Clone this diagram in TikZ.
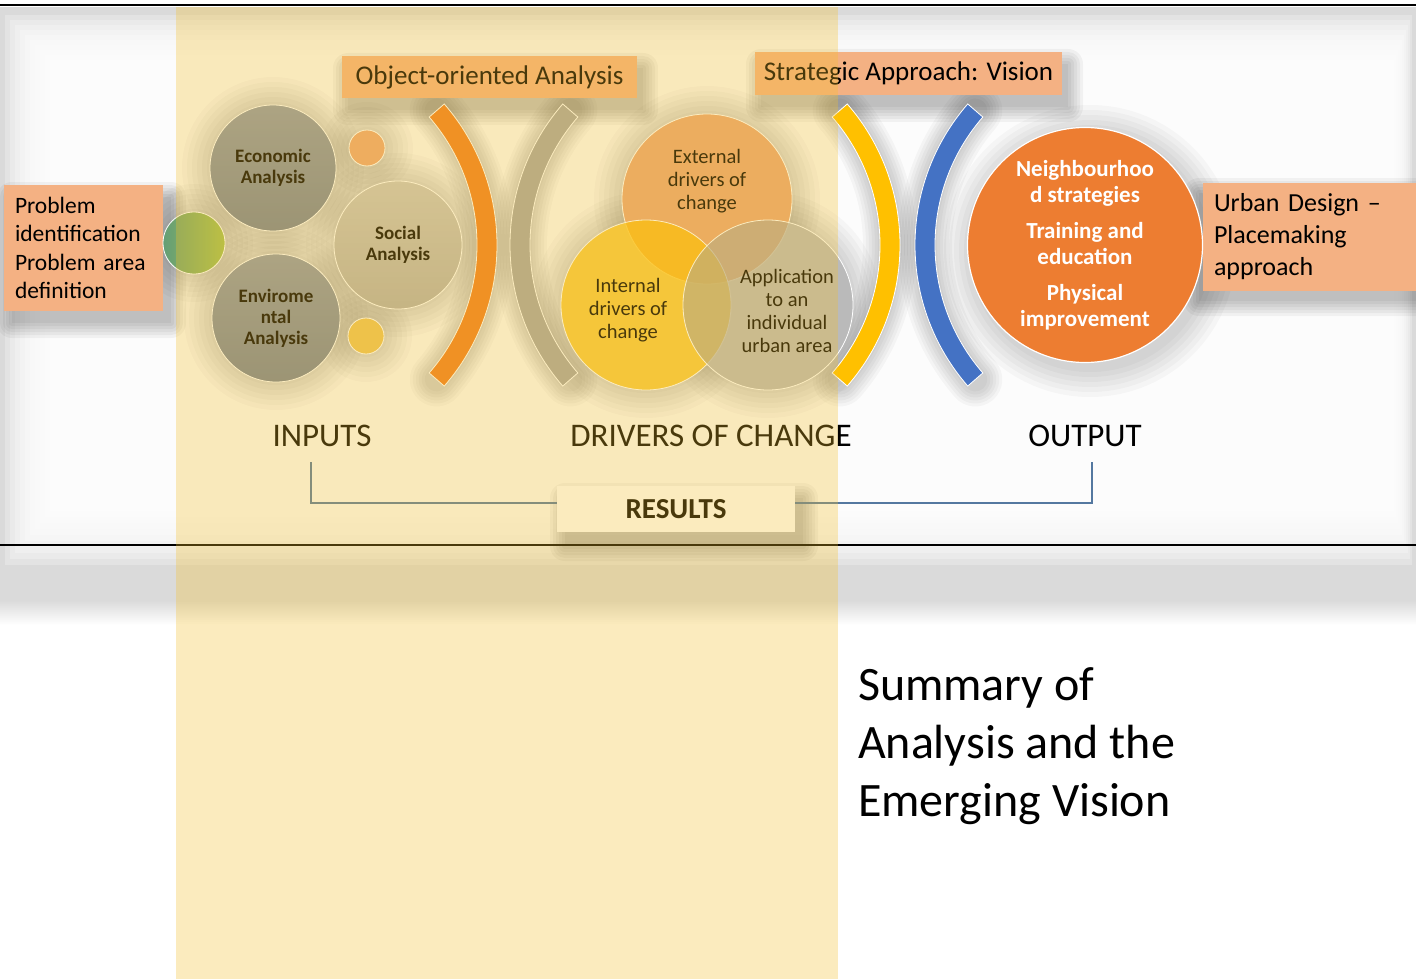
\documentclass[tikz,border=0pt]{standalone}
\usepackage{fontspec}
\setmainfont{Carlito}
\newcommand\myfs[2]{\fontsize{#1}{#2}\selectfont}
\definecolor{salmon}{RGB}{244,177,131}
\definecolor{orangeA}{RGB}{237,125,49}
\definecolor{arcorange}{RGB}{238,125,35}
\definecolor{goldA}{RGB}{255,192,0}
\definecolor{blueA}{RGB}{68,114,196}
\definecolor{grayA}{RGB}{165,165,165}
\definecolor{ovl}{RGB}{245,192,40}
\definecolor{bracketc}{RGB}{84,120,160}
\definecolor{bggray}{RGB}{218,218,218}
\definecolor{venbase}{RGB}{228,228,228}
\definecolor{econTop}{RGB}{142,152,170}
\definecolor{econBot}{RGB}{118,130,150}
\definecolor{socTop}{RGB}{200,198,194}
\definecolor{socBot}{RGB}{178,176,172}
\definecolor{greenL}{RGB}{100,158,118}
\definecolor{greenR}{RGB}{165,192,80}
\definecolor{smallOr}{RGB}{235,165,120}
\definecolor{smallYe}{RGB}{235,195,90}
\newcommand\mysh[4]{\foreach \k in {0,3,...,15}{\fill[black,opacity=0.045,rounded corners=\k pt] ({#1-\k},{#2-\k}) rectangle ({#3+\k},{#4+\k});}}
\newcommand\myhalo[3]{\foreach \k in {3,8,...,28}{\fill[black,opacity=0.028] (#1,#2) circle ({#3+\k});}}
\newcommand\myarchalo[4]{\foreach \w in {24,30,...,54}{\draw[black,opacity=0.03,line width=\w pt,line cap=round] ([shift={(#3:205)}]#1,#2) arc[start angle=#3,end angle=#4,radius=205];}}
\newcommand\myarc[5]{\filldraw[fill=#5,draw=white,line width=0.8pt] ([shift={(#3:215)}]#1,#2) arc[start angle=#3,end angle=#4,radius=215] -- ([shift={(#4:195)}]#1,#2) arc[start angle=#4,end angle=#3,radius=195] -- cycle;}
\begin{document}
\begin{tikzpicture}[x=1pt,y=-1pt,
  every node/.style={inner sep=0pt,outer sep=0pt},
  salbox/.style={fill=salmon},
  ancirc/.style={circle,draw=white,line width=0.8pt,align=center,font=\bfseries\myfs{19}{21}},
  smallc/.style={circle,draw=white,line width=0.8pt,minimum size=36},
  venn/.style={circle,minimum size=170,draw=white,line width=0.8pt},
  venntxt/.style={align=center,font=\myfs{20.5}{23}},
  heading/.style={font=\myfs{33}{38}},
  bracketline/.style={draw=bracketc,line width=1.2pt}]
\useasboundingbox (0,0) rectangle (1416,979);
\fill[white] (0,0) rectangle (1416,979);
% blurred frame
\fill[bggray] (0,7) rectangle (1416,600);
\foreach \i in {0,...,9}{\fill[white,opacity=0.25] ({5+5*\i},{15+5*\i}) rectangle ({1412-2*\i},{565-6*\i});}
\shade[top color=bggray,bottom color=white] (0,600) rectangle (1416,625);
\draw[line width=2pt] (0,5) -- (1416,5);
\draw[line width=2pt] (0,545) -- (1416,545);
% shadows and halos
\mysh{12}{197}{171}{323}
\mysh{1199}{193}{1420}{301}
\mysh{761}{64}{1068}{107}
\mysh{348}{68}{643}{110}
\mysh{565}{498}{803}{546}
\myhalo{194}{243}{31}
\myhalo{273}{168}{63}
\myhalo{398}{245}{64}
\myhalo{276}{318}{64}
\myhalo{367}{148}{18}
\myhalo{366}{336}{18}
\myhalo{707}{199}{85}
\myhalo{646}{305}{85}
\myhalo{768}{305}{85}
\myhalo{1090}{251}{118}
\myarchalo{282}{245}{-41}{41}
\myarchalo{725}{245}{139}{221}
\myarchalo{685}{245}{-41}{41}
\myarchalo{1130}{245}{139}{221}
% boxes
\node[salbox,text width=137,inner xsep=11,minimum height=126,align=left,font=\myfs{23.5}{28.5}] (prob) at (83.5,248) {Problem\\identification\\Problem area\\definition};
\node[salbox,text width=192,inner xsep=11,minimum height=108,align=left,font=\myfs{26}{32}] (urban) at (1310,237) {Urban Design –\\Placemaking\\approach};
\node[salbox,minimum width=295,minimum height=42,font=\myfs{27}{30}] (ooa) at (489.5,77) {Object-oriented Analysis};
\node[salbox,minimum width=307,minimum height=43,font=\myfs{27}{30}] (sav) at (908.5,73.5) {Strategic Approach: Vision};
% inputs cluster
\node[circle,minimum size=62,draw=white,line width=0.8pt,left color=greenL,right color=greenR] (green) at (194,243) {};
\node[ancirc,minimum size=126,top color=econTop,bottom color=econBot] (econ) at (273,168) {Economic\\Analysis};
\node[ancirc,minimum size=128,top color=socTop,bottom color=socBot] (social) at (398,245) {Social\\Analysis};
\node[ancirc,minimum size=128,top color=econTop,bottom color=econBot] (env) at (276,318) {Envirome\\ntal\\Analysis};
\node[smallc,fill=smallOr] (sor) at (367,148) {};
\node[smallc,fill=smallYe] (sye) at (366,336) {};
% arcs
\myarc{282}{245}{-41}{41}{arcorange}
\myarc{725}{245}{139}{221}{grayA}
\myarc{685}{245}{-41}{41}{goldA}
\myarc{1130}{245}{139}{221}{blueA}
% venn
\fill[venbase] (707,199) circle (85) (646,305) circle (85) (768,305) circle (85);
\node[venn,fill=orangeA,fill opacity=0.6] (ext) at (707,199) {};
\node[venn,fill=goldA,fill opacity=0.7] (int) at (646,305) {};
\node[venn,fill=grayA,fill opacity=0.65] (app) at (768,305) {};
\node[venntxt] (exttxt) at (707,181) {External\\drivers of\\change};
\node[venntxt] (inttxt) at (628,310) {Internal\\drivers of\\change};
\node[venntxt] (apptxt) at (787,311) {Application\\to an\\individual\\urban area};
% output circle
\node[circle,minimum size=235,fill=orangeA,draw=white,line width=1.2pt,align=center,text=white,font=\bfseries\myfs{23}{26}] (out) at (1085,245) {Neighbourhoo\\d strategies\\[10pt]Training and\\education\\[10pt]Physical\\improvement};
% headings
\node[heading] (inputs) at (322,436) {INPUTS};
\node[heading] (drivers) at (711,436) {DRIVERS OF CHANGE};
\node[heading] (output) at (1085,436) {OUTPUT};
\node[fill=white,minimum width=238,minimum height=46,font=\bfseries\myfs{29}{30}] (results) at (676,509) {RESULTS};
\coordinate (bl) at (311,462);
\coordinate (br) at (1092,462);
\draw[bracketline] (bl) |- ([yshift=6pt]results.west);
\draw[bracketline] (br) |- ([yshift=6pt]results.east);
% overlay
\fill[ovl,opacity=0.3] (176,7) rectangle (838,979);
% title
\node[anchor=north west,align=left,font=\myfs{48}{58}] (title) at (858,668) {Summary of\\Analysis and the\\Emerging Vision};
\end{tikzpicture}
\end{document}
